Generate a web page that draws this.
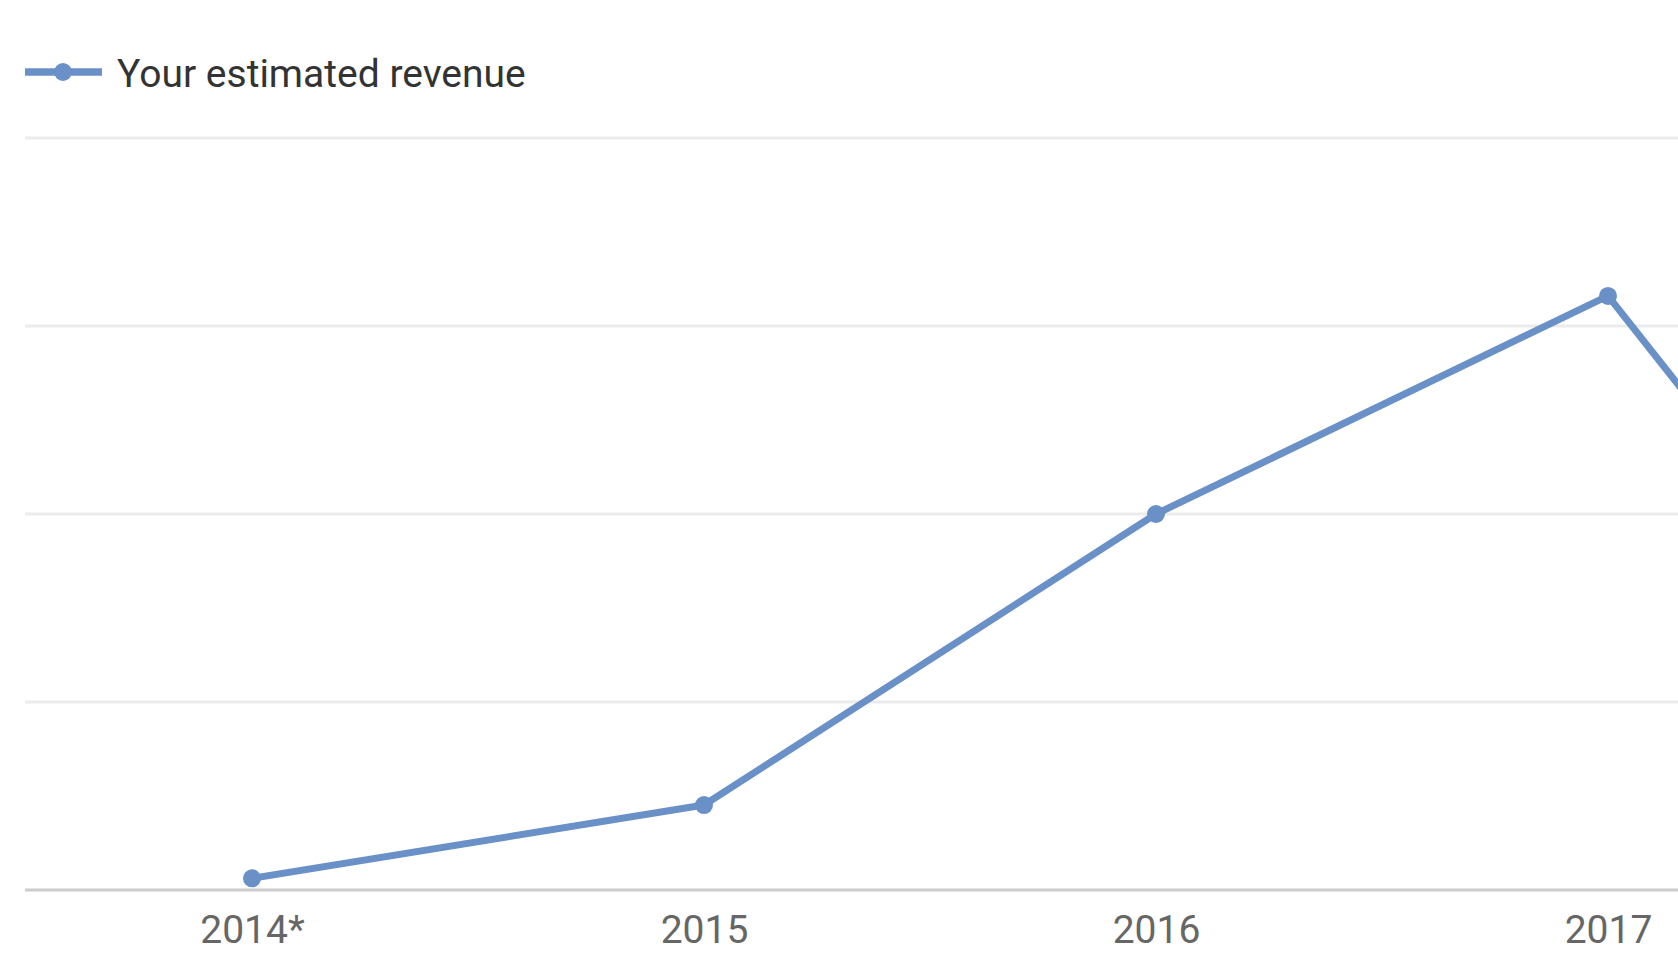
<!DOCTYPE html>
<html>
<head>
<meta charset="utf-8">
<script src="https://cdn.jsdelivr.net/npm/d3@7"></script>
<style>
  body { margin: 0; background: #fff; }
  svg { display: block; font-family: Roboto, "Noto Sans", sans-serif; }
</style>
</head>
<body>
<div id="chart"></div>
<script>
// Data (grid step = 1 unit, no y labels shown)
const years = ["2014*", "2015", "2016", "2017", "2018"];
const revenue = [0.062, 0.452, 2.0, 3.16, 0.12];
const yTicks = [0, 1, 2, 3, 4];
const seriesName = "Your estimated revenue";

const width = 1678;
const height = 964;
const margin = { top: 138, left: 26, bottom: 74 };
const lineColour = "#6990c7";

const svg = d3
  .select("#chart")
  .append("svg")
  .attr("width", width)
  .attr("height", height);

// x: one point per year, last one falls outside the window
const xScale = d3
  .scalePoint()
  .domain(years)
  .range([margin.left, margin.left + years.length * 452])
  .padding(0.5);

const yScale = d3
  .scaleLinear()
  .domain([0, 4])
  .range([height - margin.bottom, margin.top]);

// Gridlines
svg
  .append("g")
  .attr("class", "grid")
  .selectAll("line")
  .data(yTicks.filter(d => d > 0))
  .join("line")
  .attr("x1", 25)
  .attr("x2", width)
  .attr("y1", d => yScale(d))
  .attr("y2", d => yScale(d))
  .attr("stroke", "#ebebeb")
  .attr("stroke-width", 3);

// Baseline
svg
  .append("line")
  .attr("x1", 25)
  .attr("x2", width)
  .attr("y1", yScale(0))
  .attr("y2", yScale(0))
  .attr("stroke", "#cccccc")
  .attr("stroke-width", 3);

// x axis labels -- only the ones that land inside the window
const xAxis = d3
  .axisBottom(xScale)
  .tickValues(years.filter(y => xScale(y) < width))
  .tickSize(0)
  .tickPadding(0);
const gX = svg
  .append("g")
  .attr("transform", "translate(0," + yScale(0) + ")")
  .call(xAxis);
gX.select(".domain").remove();
gX.selectAll("text")
  .attr("y", 53)
  .attr("dy", 0)
  .attr("fill", "#666666")
  .style("font-size", "39px")
  .style("font-family", "Roboto, sans-serif");

// Line + points
const points = years.map((y, i) => ({ year: y, value: revenue[i] }));

const line = d3
  .line()
  .x(d => xScale(d.year))
  .y(d => yScale(d.value));

svg
  .append("path")
  .datum(points)
  .attr("fill", "none")
  .attr("stroke", lineColour)
  .attr("stroke-width", 7)
  .attr("stroke-linejoin", "round")
  .attr("d", line);

svg
  .append("g")
  .selectAll("circle")
  .data(points)
  .join("circle")
  .attr("cx", d => xScale(d.year))
  .attr("cy", d => yScale(d.value))
  .attr("r", 9)
  .attr("fill", lineColour);

// Legend
const legend = svg.append("g").attr("transform", "translate(25,72)");
legend
  .append("line")
  .attr("x1", 0)
  .attr("x2", 77)
  .attr("stroke", lineColour)
  .attr("stroke-width", 7.5);
legend
  .append("circle")
  .attr("cx", 38)
  .attr("r", 9)
  .attr("fill", lineColour);
legend
  .append("text")
  .attr("x", 92)
  .attr("y", 15)
  .attr("fill", "#333333")
  .style("font-size", "39px")
  .text(seriesName);
</script>
</body>
</html>
